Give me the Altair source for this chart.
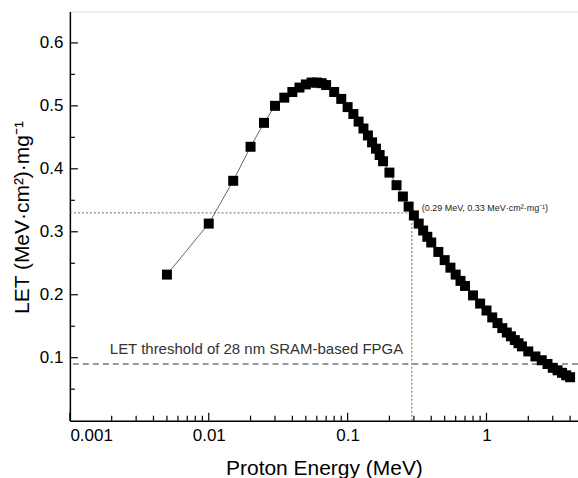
import altair as alt
import pandas as pd

# Proton energy (MeV) and LET (MeV·cm²/mg)
energy = [0.005, 0.010, 0.015, 0.020, 0.025, 0.030, 0.035, 0.040, 0.045, 0.050,
          0.055, 0.060, 0.065, 0.070, 0.080, 0.090, 0.100, 0.110, 0.120, 0.130,
          0.140, 0.150, 0.160, 0.170, 0.180, 0.200, 0.225, 0.250, 0.275, 0.300,
          0.325, 0.350, 0.375, 0.400, 0.450, 0.500, 0.550, 0.600, 0.650, 0.700,
          0.800, 0.900, 1.000, 1.100, 1.200, 1.300, 1.400, 1.500, 1.600, 1.700,
          1.800, 2.000, 2.250, 2.500, 2.750, 3.000, 3.250, 3.500, 3.750, 4.000]
let_vals = [0.232, 0.313, 0.381, 0.435, 0.473, 0.500, 0.513, 0.522, 0.529, 0.534,
            0.537, 0.537, 0.536, 0.533, 0.522, 0.511, 0.498, 0.487, 0.475, 0.464,
            0.453, 0.442, 0.432, 0.422, 0.412, 0.394, 0.374, 0.356, 0.340, 0.326,
            0.313, 0.302, 0.292, 0.283, 0.268, 0.255, 0.243, 0.232, 0.222, 0.214,
            0.199, 0.186, 0.175, 0.164, 0.155, 0.147, 0.140, 0.134, 0.128, 0.123,
            0.118, 0.110, 0.102, 0.096, 0.090, 0.084, 0.080, 0.076, 0.072, 0.069]

x_major = [0.001, 0.01, 0.1, 1]
x_minor = [0.002, 0.003, 0.004, 0.005, 0.006, 0.007, 0.008, 0.009,
           0.02, 0.03, 0.04, 0.05, 0.06, 0.07, 0.08, 0.09,
           0.2, 0.3, 0.4, 0.5, 0.6, 0.7, 0.8, 0.9,
           2, 3, 4]
y_major = [0.1, 0.2, 0.3, 0.4, 0.5, 0.6]
y_minor = [0.05, 0.15, 0.25, 0.35, 0.45, 0.55]

threshold = 0.09
threshold_label = "LET threshold of 28 nm SRAM-based FPGA"
mark_E = 0.29
mark_LET = 0.33
mark_label = "(0.29 MeV, 0.33 MeV·cm²·mg⁻¹)"

FONT = "Liberation Sans"

xs = alt.Scale(type="log", domain=[0.001, 4.56], nice=False)
ys = alt.Scale(domain=[0, 0.65], nice=False, zero=False)

xaxis = alt.Axis(values=x_major, format="~g", ticks=False, grid=False,
                 labelFontSize=17, labelPadding=7, labelOverlap=False,
                 labelColor="black", labelFont=FONT,
                 title="Proton Energy (MeV)", titleFontSize=21,
                 titleFontWeight="normal", titleFont=FONT, titleColor="black",
                 titleY=54, titleBaseline="alphabetic",
                 domainColor="black", domainWidth=1.5)
yaxis = alt.Axis(values=y_major, format=".1f", ticks=False, grid=False,
                 labelFontSize=17, labelPadding=7, labelColor="black",
                 labelFont=FONT,
                 title="LET (MeV·cm²)·mg⁻¹", titleFontSize=21,
                 titleFontWeight="normal", titleFont=FONT, titleColor="black",
                 titleX=-47, titleY=206, titleAlign="center",
                 titleBaseline="middle",
                 domainColor="black", domainWidth=1.5)


def X(field="E"):
    return alt.X(f"{field}:Q", scale=xs, axis=xaxis)


def Y(field="LET"):
    return alt.Y(f"{field}:Q", scale=ys, axis=yaxis)


df = pd.DataFrame({"E": energy, "LET": let_vals})

line = alt.Chart(df).mark_line(color="#555555", strokeWidth=0.9).encode(x=X(), y=Y())
points = alt.Chart(df).mark_point(shape="square", filled=True, size=100,
                                  color="black", opacity=1).encode(x=X(), y=Y())

thr = alt.Chart(pd.DataFrame({"LET": [threshold]})).mark_rule(
    color="#333333", strokeWidth=1.2, strokeDash=[6, 4]).encode(y=Y())

hline = alt.Chart(pd.DataFrame({"E": [0.001], "E2": [mark_E], "LET": [mark_LET]})).mark_rule(
    color="#666666", strokeWidth=1, strokeDash=[2, 2]).encode(
    x=X(), x2=alt.X2("E2:Q"), y=Y())
vline = alt.Chart(pd.DataFrame({"E": [mark_E], "LET": [0.0], "LET2": [mark_LET]})).mark_rule(
    color="#666666", strokeWidth=1, strokeDash=[2, 2]).encode(
    x=X(), y=Y(), y2=alt.Y2("LET2:Q"))

ann = alt.Chart(pd.DataFrame({"E": [mark_E], "LET": [mark_LET], "t": [mark_label]})).mark_text(
    align="left", baseline="middle", fontSize=9, font=FONT, color="#222222",
    dx=10, dy=-5).encode(x=X(), y=Y(), text="t:N")

thr_text = alt.Chart(pd.DataFrame({"E": [0.001], "LET": [threshold], "t": [threshold_label]})).mark_text(
    align="left", baseline="alphabetic", fontSize=15, font=FONT, color="#333333",
    dx=40, dy=-10).encode(x=X(), y=Y(), text="t:N")

xt_major = alt.Chart(pd.DataFrame({"E": x_major})).mark_rule(color="black", strokeWidth=1.2).encode(
    x=X(), y=alt.value(410), y2=alt.value(402))
xt_minor = alt.Chart(pd.DataFrame({"E": x_minor})).mark_rule(color="black", strokeWidth=1.2).encode(
    x=X(), y=alt.value(410), y2=alt.value(405))
yt_major = alt.Chart(pd.DataFrame({"LET": y_major})).mark_rule(color="black", strokeWidth=1.2).encode(
    y=Y(), x=alt.value(0), x2=alt.value(8))
yt_minor = alt.Chart(pd.DataFrame({"LET": y_minor})).mark_rule(color="black", strokeWidth=1.2).encode(
    y=Y(), x=alt.value(0), x2=alt.value(5))

chart = alt.layer(
    thr, hline, vline, line, points, ann, thr_text,
    xt_major, xt_minor, yt_major, yt_minor
).properties(
    width=509, height=410,
    padding={"left": 70, "top": 11, "right": 0, "bottom": 57},
    autosize="none",
    background="white",
).configure_view(
    stroke="black", strokeWidth=1.5
).configure(font=FONT)

chart.save("out.html", embed_options={"renderer": "svg", "actions": False})
